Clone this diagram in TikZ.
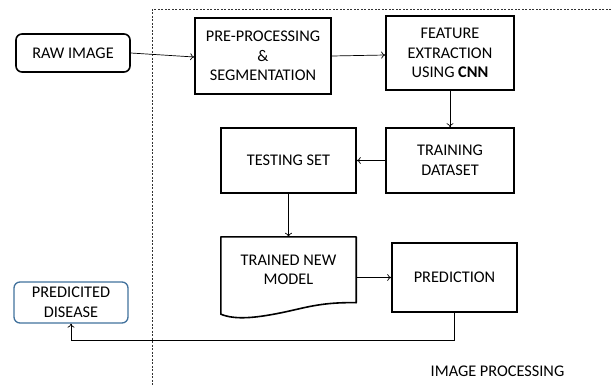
\documentclass[tikz,border=0pt]{standalone}
\usepackage{fontspec}
\setmainfont{Carlito}
\usetikzlibrary{arrows.meta,calc}
\definecolor{edgeblue}{HTML}{41719C}
\begin{document}
\begin{tikzpicture}[x=1pt,y=-1pt,
  font=\fontsize{16.3}{19.5}\selectfont,
  stepbox/.style={draw=black,line width=1.6pt,align=center,inner sep=0pt},
  endbox/.style={draw=black,line width=1.6pt,rounded corners=6pt,align=center,inner sep=0pt},
  outbox/.style={draw=edgeblue,line width=1.3pt,rounded corners=6pt,align=center,inner sep=0pt},
  link/.style={line width=0.7pt,-{To[length=4pt,width=7pt]}},
  plain/.style={line width=0.7pt}]
\useasboundingbox (0,0) rectangle (611,386);

% image-processing region (dashed frame, open at right and bottom)
\draw[line width=0.6pt,dash pattern=on 2pt off 1.5pt,black!80]
  (611,9) -- (152,9) -- (152,386);

% process blocks
\node[endbox,minimum width=114pt,minimum height=38pt] (raw) at (73,53) {RAW IMAGE};
\node[stepbox,minimum width=136pt,minimum height=76pt] (pre) at (263,56)
  {PRE-PROCESSING\\\&\\SEGMENTATION};
\node[stepbox,minimum width=128pt,minimum height=74pt] (feat) at (450,53)
  {FEATURE\\EXTRACTION\\USING \textbf{CNN}};
\node[stepbox,minimum width=128pt,minimum height=65pt] (train) at (450,160.5)
  {TRAINING\\DATASET};
\node[stepbox,minimum width=135pt,minimum height=65pt] (test) at (288.5,160.5)
  {TESTING SET};

% document-shaped block for the trained model
\node[inner sep=0pt,minimum width=135pt,minimum height=65pt] (model) at (288.5,269.5) {};
\node[align=center] (modeltext) at (288.5,270) {TRAINED NEW\\MODEL};
\draw[line width=1.6pt,line join=round]
  (model.north west) -- (model.north east) -- ($(model.south east)+(0,0.5)$)
  .. controls (320,302) and (305,308) .. (280,313)
  .. controls (255,318) and (235,320) .. ($(model.south west)+(0,12)$)
  -- cycle;

\node[stepbox,minimum width=125pt,minimum height=69pt] (pred) at (454.5,277.5) {PREDICTION};
\node[outbox,minimum width=114pt,minimum height=41pt] (dis) at (71,302.5)
  {PREDICITED\\DISEASE};

% connectors
\draw[link] (raw.east) -- ($(pre.west)+(0,1)$);
\draw[link] (pre.east) -- ($(feat.west)+(0,2)$);
\draw[link] (feat.south) -- (train.north);
\draw[link] (train.west) -- (test.east);
\draw[link] (test.south) -- (model.north);
\draw[link] (model.east |- pred.west) -- (pred.west);
\coordinate (turn) at (0,340);
\draw[link] (pred.south) -- (pred.south |- turn) -- (dis.south |- turn) -- (dis.south);

\node[anchor=base] (label) at (497.5,376) {IMAGE PROCESSING};
\end{tikzpicture}
\end{document}
